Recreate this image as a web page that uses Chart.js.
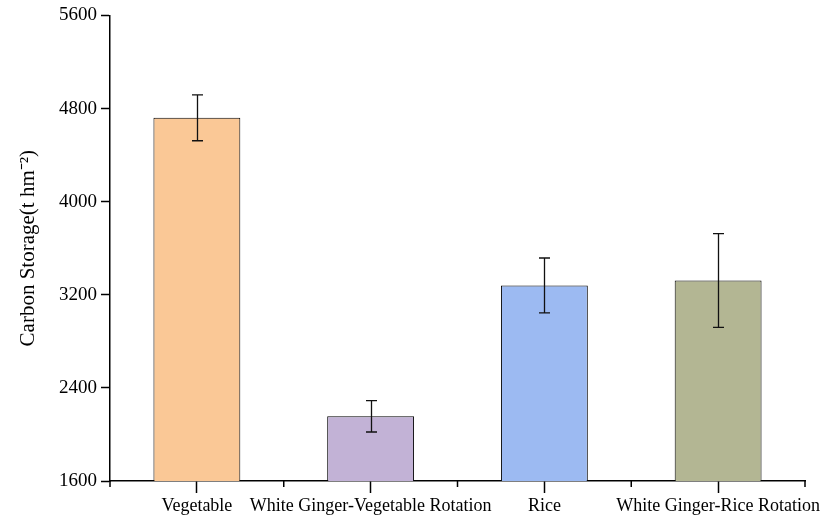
<!DOCTYPE html>
<html>
<head>
<meta charset="utf-8">
<script src="https://cdn.jsdelivr.net/npm/chart.js@4/dist/chart.umd.min.js"></script>
<style>
html,body{margin:0;padding:0;background:#fff;}
#wrap{width:821px;height:515px;position:relative;}
</style>
</head>
<body>
<div id="wrap"><canvas id="c" width="821" height="515"></canvas></div>
<script>
const categories = ["Vegetable", "White Ginger-Vegetable Rotation", "Rice", "White Ginger-Rice Rotation"];
const carbonStorage = [4720, 2156, 3280, 3323];
const errors = [197, 135, 236, 403];
const barColors = ["#FAC896", "#C2B2D6", "#9CBAF2", "#B3B693"];
const yTicks = [1600, 2400, 3200, 4000, 4800, 5600];

const FONT = "'Liberation Serif', 'Times New Roman', serif";

const errorBarPlugin = {
  id: 'errorBars',
  afterDatasetsDraw(chart) {
    const ctx = chart.ctx;
    const meta = chart.getDatasetMeta(0);
    const y = chart.scales.y;
    ctx.save();
    ctx.strokeStyle = '#111';
    ctx.lineWidth = 1.3;
    meta.data.forEach((bar, i) => {
      const v = carbonStorage[i], e = errors[i];
      const x = Math.round(bar.x) + 0.5;
      const yt = y.getPixelForValue(v + e);
      const yb = y.getPixelForValue(v - e);
      ctx.beginPath();
      ctx.moveTo(x, yt); ctx.lineTo(x, yb);
      ctx.moveTo(x - 5.5, yt); ctx.lineTo(x + 5.5, yt);
      ctx.moveTo(x - 5.5, yb); ctx.lineTo(x + 5.5, yb);
      ctx.stroke();
    });
    ctx.restore();
  }
};

const minorTickPlugin = {
  id: 'minorTicks',
  afterDraw(chart) {
    const ctx = chart.ctx;
    const a = chart.chartArea;
    ctx.save();
    ctx.strokeStyle = '#000';
    ctx.lineWidth = 1.5;
    const n = categories.length;
    const w = (a.right - a.left) / n;
    for (let i = 0; i <= n; i++) {
      const x = a.left + i * w;
      ctx.beginPath();
      ctx.moveTo(x, a.bottom);
      ctx.lineTo(x, a.bottom + 6);
      ctx.stroke();
    }
    ctx.restore();
  }
};

new Chart(document.getElementById('c'), {
  type: 'bar',
  data: {
    labels: categories,
    datasets: [{
      data: carbonStorage,
      backgroundColor: barColors,
      borderColor: '#000',
      borderWidth: 1,
      borderSkipped: false,
      barPercentage: 0.5,
      categoryPercentage: 1.0
    }]
  },
  options: {
    responsive: false,
    animation: false,
    devicePixelRatio: 1,
    layout: { padding: { top: 15, right: 16, left: 0, bottom: 0 } },
    plugins: { legend: { display: false }, tooltip: { enabled: false } },
    scales: {
      x: {
        offset: true,
        grid: { display: true, drawOnChartArea: false, offset: false, tickLength: 12, tickWidth: 1.5, tickColor: '#000' },
        border: { display: true, color: '#000', width: 1.5 },
        ticks: { color: '#000', font: { family: FONT, size: 18 }, padding: 2, maxRotation: 0, autoSkip: false },
        afterFit(s) { s.height = 34; s.paddingLeft = 0; s.paddingRight = 0; }
      },
      y: {
        min: 1600, max: 5600,
        afterBuildTicks(s) { s.ticks = yTicks.map(v => ({ value: v })); },
        grid: { display: true, drawOnChartArea: false, tickLength: 9, tickWidth: 1.5, tickColor: '#000' },
        border: { display: true, color: '#000', width: 1.5 },
        ticks: { color: '#000', font: { family: FONT, size: 19 }, padding: 4, callback: (v) => String(v) },
        title: { display: true, text: 'Carbon Storage(t hm⁻²)', color: '#000', font: { family: FONT, size: 21 }, padding: { top: 16, bottom: 0 } },
        afterFit(s) { s.width = 110; }
      }
    }
  },
  plugins: [errorBarPlugin, minorTickPlugin]
});
</script>
</body>
</html>
